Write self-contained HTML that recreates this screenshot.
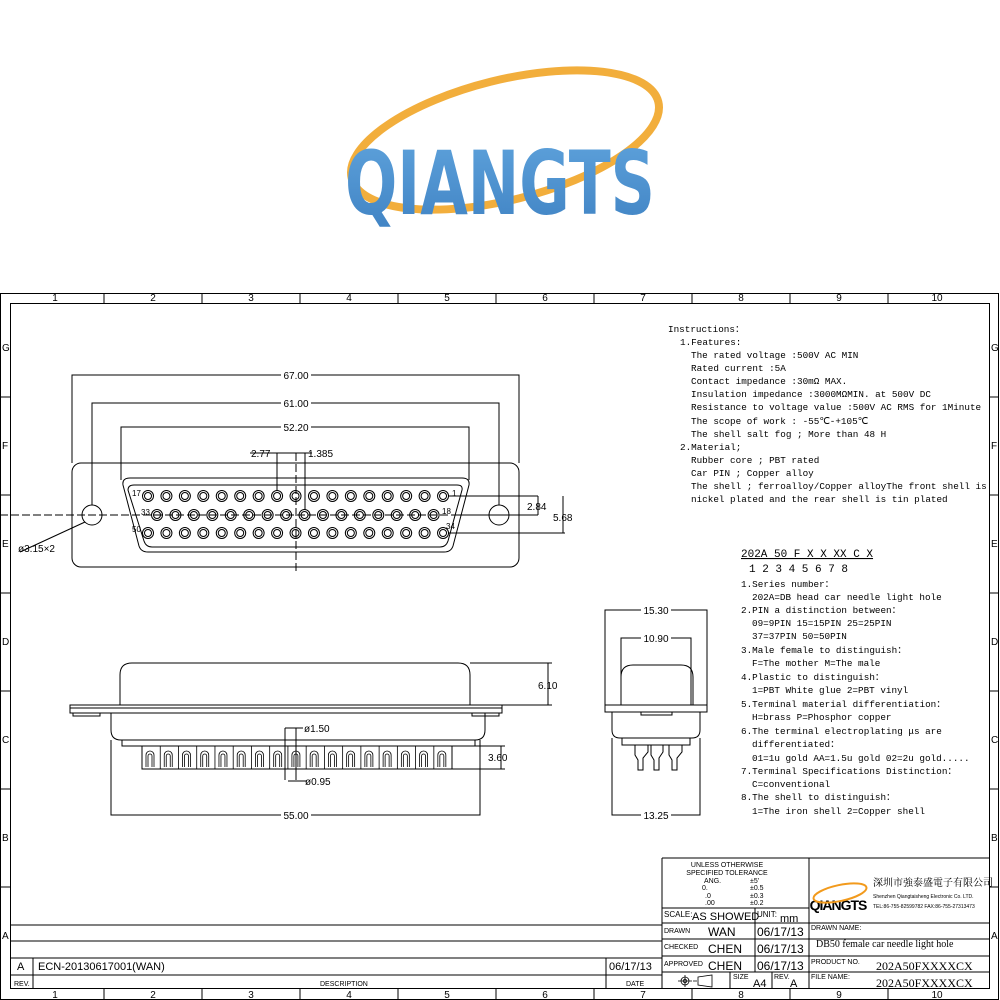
<!DOCTYPE html>
<html><head><meta charset="utf-8"><style>html,body{margin:0;padding:0;background:#fff}svg{display:block}</style></head><body>
<svg width="1000" height="1000" viewBox="0 0 1000 1000" xmlns="http://www.w3.org/2000/svg" xmlns:xlink="http://www.w3.org/1999/xlink" font-family="Liberation Sans, sans-serif">
<defs>
<linearGradient id="bl" x1="0" y1="0" x2="0" y2="1"><stop offset="0" stop-color="#5fa3dc"/><stop offset="1" stop-color="#3f82c3"/></linearGradient>
<g id="h" fill="none" stroke="#000" stroke-width="1"><circle r="5.5"/><circle r="3.5"/></g>
<g id="p" fill="none" stroke="#000" stroke-width="0.8"><path d="M18.24 0V23M4 21V9A4 4 0 0 1 12 9V21M6 21V10A2 2 0 0 1 10 10V21"/></g>
</defs>
<!-- logo -->
<ellipse cx="505" cy="140" rx="158" ry="60" transform="rotate(-14 505 140)" fill="none" stroke="#f2ae3c" stroke-width="8"/>
<text x="345" y="214" font-size="88" font-weight="bold" fill="url(#bl)" textLength="310" lengthAdjust="spacingAndGlyphs" font-family="DejaVu Sans, sans-serif">QIANGTS</text>

<g stroke="#000" fill="none" stroke-width="1">
<rect x="0.5" y="293.5" width="998" height="706"/>
<rect x="10.5" y="303.5" width="979" height="685"/>
<path d="M104 293v10M202 293v10M300 293v10M398 293v10M496 293v10M594 293v10M692 293v10M790 293v10M888 293v10"/>
<path d="M104 988v12M202 988v12M300 988v12M398 988v12M496 988v12M594 988v12M692 988v12M790 988v12M888 988v12"/>
<path d="M0 397h10M0 495h10M0 593h10M0 691h10M0 789h10M0 887h10M990 397h9M990 495h9M990 593h9M990 691h9M990 789h9M990 887h9"/>
<path d="M10 925h652M10 941h652M10 958h652M10 975h652M33 958v30M606 958v30M662 958v30"/>
<path d="M662 858h328M662 858v130M662 908h147M662 923h328M662 939h328M662 956h328M662 972h328M809 858v130M755 908v64M730 972v16M772 972v16"/>
</g>
<g font-size="10" fill="#000">
<text x="55" y="301" text-anchor="middle">1</text><text x="153" y="301" text-anchor="middle">2</text><text x="251" y="301" text-anchor="middle">3</text><text x="349" y="301" text-anchor="middle">4</text><text x="447" y="301" text-anchor="middle">5</text><text x="545" y="301" text-anchor="middle">6</text><text x="643" y="301" text-anchor="middle">7</text><text x="741" y="301" text-anchor="middle">8</text><text x="839" y="301" text-anchor="middle">9</text><text x="937" y="301" text-anchor="middle">10</text>
<text x="55" y="998" text-anchor="middle">1</text><text x="153" y="998" text-anchor="middle">2</text><text x="251" y="998" text-anchor="middle">3</text><text x="349" y="998" text-anchor="middle">4</text><text x="447" y="998" text-anchor="middle">5</text><text x="545" y="998" text-anchor="middle">6</text><text x="643" y="998" text-anchor="middle">7</text><text x="741" y="998" text-anchor="middle">8</text><text x="839" y="998" text-anchor="middle">9</text><text x="937" y="998" text-anchor="middle">10</text>
<text x="2" y="351">G</text><text x="2" y="449">F</text><text x="2" y="547">E</text><text x="2" y="645">D</text><text x="2" y="743">C</text><text x="2" y="841">B</text><text x="2" y="939">A</text>
<text x="991" y="351">G</text><text x="991" y="449">F</text><text x="991" y="547">E</text><text x="991" y="645">D</text><text x="991" y="743">C</text><text x="991" y="841">B</text><text x="991" y="939">A</text>
<text x="17" y="970" font-size="11">A</text><text x="38" y="970" font-size="11">ECN-20130617001(WAN)</text><text x="609" y="970" font-size="11">06/17/13</text>
<text x="14" y="986" font-size="7">REV.</text><text x="320" y="986" font-size="7">DESCRIPTION</text><text x="626" y="986" font-size="7">DATE</text>
<text x="727" y="867" font-size="7" text-anchor="middle">UNLESS  OTHERWISE</text>
<text x="727" y="875" font-size="7" text-anchor="middle">SPECIFIED  TOLERANCE</text>
<text x="704" y="883" font-size="7">ANG.</text><text x="750" y="883" font-size="7">±5'</text>
<text x="702" y="890" font-size="7">0.</text><text x="750" y="890" font-size="7">±0.5</text>
<text x="705" y="898" font-size="7">.0</text><text x="750" y="898" font-size="7">±0.3</text>
<text x="705" y="905" font-size="7">.00</text><text x="750" y="905" font-size="7">±0.2</text>
<text x="664" y="917" font-size="8">SCALE:</text><text x="692" y="920" font-size="11">AS  SHOWED</text>
<text x="757" y="917" font-size="8">UNIT:</text><text x="780" y="922" font-size="11">mm</text>
<text x="664" y="933" font-size="7">DRAWN</text><text x="708" y="936" font-size="12">WAN</text><text x="757" y="936" font-size="12">06/17/13</text>
<text x="664" y="949" font-size="7">CHECKED</text><text x="708" y="953" font-size="12">CHEN</text><text x="757" y="953" font-size="12">06/17/13</text>
<text x="664" y="966" font-size="7">APPROVED</text><text x="708" y="970" font-size="12">CHEN</text><text x="757" y="970" font-size="12">06/17/13</text>
<text x="733" y="979" font-size="7">SIZE</text><text x="753" y="987" font-size="11">A4</text>
<text x="774" y="979" font-size="7">REV.</text><text x="790" y="987" font-size="11">A</text>
<text x="811" y="930" font-size="7">DRAWN  NAME:</text>
<text x="816" y="947" font-size="10" font-family="Liberation Serif, serif">DB50 female car needle light hole</text>
<text x="811" y="964" font-size="7">PRODUCT NO.</text><text x="876" y="970" font-size="12" font-family="Liberation Serif, serif">202A50FXXXXCX</text>
<text x="811" y="979" font-size="7">FILE  NAME:</text><text x="876" y="987" font-size="12" font-family="Liberation Serif, serif">202A50FXXXXCX</text>
<text x="873" y="886" font-size="10" font-family="Noto Serif CJK SC, serif">深圳市強泰盛電子有限公司</text>
<text x="873" y="898" font-size="5">Shenzhen Qiangtaisheng Electronic Co. LTD.</text>
<text x="873" y="908" font-size="5">TEL:86-755-82599782 FAX:86-755-27313473</text>
<text x="838" y="910" font-size="14" font-weight="bold" text-anchor="middle" letter-spacing="-1">QIANGTS</text>
</g>
<ellipse cx="840" cy="893" rx="27" ry="8" transform="rotate(-12 840 893)" fill="none" stroke="#f29a1c" stroke-width="2"/>
<g stroke="#000" fill="none" stroke-width="0.8"><circle cx="685" cy="981" r="4"/><circle cx="685" cy="981" r="1.8"/><path d="M678 981h14M685 975v12M693 981h4M698 977l14-2v12l-14-2z"/></g>

<g font-family="Liberation Mono, monospace" font-size="9.3" fill="#000">
<text x="668" y="332">Instructions：</text>
<text x="680" y="345">1.Features:</text>
<text x="691" y="358">The rated voltage :500V AC MIN</text>
<text x="691" y="371">Rated current :5A</text>
<text x="691" y="384">Contact impedance :30mΩ MAX.</text>
<text x="691" y="397">Insulation impedance :3000MΩMIN. at 500V DC</text>
<text x="691" y="410">Resistance to voltage value :500V AC RMS for 1Minute</text>
<text x="691" y="424">The scope of work : -55℃-+105℃</text>
<text x="691" y="437">The shell salt fog ; More than 48 H</text>
<text x="680" y="450">2.Material;</text>
<text x="691" y="463">Rubber core ; PBT rated</text>
<text x="691" y="476">Car PIN ; Copper alloy</text>
<text x="691" y="489">The shell ; ferroalloy/Copper alloyThe front shell is</text>
<text x="691" y="502">nickel plated and the rear shell is tin plated</text>
<text x="741" y="557" text-decoration="underline" font-size="11">202A  50 F X X XX C X</text>
<text x="749" y="572" font-size="11">1    2  3 4 5  6  7 8</text>
<text x="741" y="587">1.Series number：</text>
<text x="752" y="600">202A=DB head car needle light hole</text>
<text x="741" y="613">2.PIN a distinction between：</text>
<text x="752" y="626">09=9PIN  15=15PIN  25=25PIN</text>
<text x="752" y="639">37=37PIN  50=50PIN</text>
<text x="741" y="653">3.Male female to distinguish：</text>
<text x="752" y="666">F=The mother  M=The male</text>
<text x="741" y="680">4.Plastic to distinguish：</text>
<text x="752" y="693">1=PBT White glue  2=PBT vinyl</text>
<text x="741" y="707">5.Terminal material differentiation：</text>
<text x="752" y="720">H=brass  P=Phosphor copper</text>
<text x="741" y="734">6.The terminal electroplating μs are</text>
<text x="752" y="747">differentiated：</text>
<text x="752" y="761">01=1u gold  AA=1.5u gold  02=2u gold.....</text>
<text x="741" y="774">7.Terminal Specifications Distinction：</text>
<text x="752" y="787">C=conventional</text>
<text x="741" y="800">8.The shell to distinguish：</text>
<text x="752" y="814">1=The iron shell  2=Copper shell</text>
</g>

<g stroke="#000" fill="none" stroke-width="1">
<rect x="72" y="463" width="447" height="104" rx="9"/>
<path d="M123 485Q122 478 130 478H462Q470 478 469 485L453 546Q451 552 444 552H148Q141 552 139 546Z"/>
<path d="M128 490Q128 485 134 485H457Q463 485 462 490L448 541Q446 547 440 547H152Q146 547 144 541Z"/>
<circle cx="92" cy="515" r="10"/><circle cx="499" cy="515" r="10"/>
<path d="M0 515H519" stroke-dasharray="8 3"/>
<path d="M296 453V572" stroke-dasharray="8 3"/>
<path d="M72 463V375H519V463M92 505V403H499V505M121 480V427H469V480"/>
<path d="M277 491V453H305V510M250 453H277M305 453H312"/>
<path d="M448 496H538M448 533H565M458 515H538M538 496V515M563 496V533"/>
<path d="M20 552L85 522"/>
</g>
<g>
<use xlink:href="#h" x="148" y="496"/><use xlink:href="#h" x="166.44" y="496"/><use xlink:href="#h" x="184.88" y="496"/><use xlink:href="#h" x="203.32" y="496"/><use xlink:href="#h" x="221.76" y="496"/><use xlink:href="#h" x="240.2" y="496"/><use xlink:href="#h" x="258.64" y="496"/><use xlink:href="#h" x="277.08" y="496"/><use xlink:href="#h" x="295.52" y="496"/><use xlink:href="#h" x="313.96" y="496"/><use xlink:href="#h" x="332.4" y="496"/><use xlink:href="#h" x="350.84" y="496"/><use xlink:href="#h" x="369.28" y="496"/><use xlink:href="#h" x="387.72" y="496"/><use xlink:href="#h" x="406.16" y="496"/><use xlink:href="#h" x="424.6" y="496"/><use xlink:href="#h" x="443.04" y="496"/>
<use xlink:href="#h" x="148" y="533"/><use xlink:href="#h" x="166.44" y="533"/><use xlink:href="#h" x="184.88" y="533"/><use xlink:href="#h" x="203.32" y="533"/><use xlink:href="#h" x="221.76" y="533"/><use xlink:href="#h" x="240.2" y="533"/><use xlink:href="#h" x="258.64" y="533"/><use xlink:href="#h" x="277.08" y="533"/><use xlink:href="#h" x="295.52" y="533"/><use xlink:href="#h" x="313.96" y="533"/><use xlink:href="#h" x="332.4" y="533"/><use xlink:href="#h" x="350.84" y="533"/><use xlink:href="#h" x="369.28" y="533"/><use xlink:href="#h" x="387.72" y="533"/><use xlink:href="#h" x="406.16" y="533"/><use xlink:href="#h" x="424.6" y="533"/><use xlink:href="#h" x="443.04" y="533"/>
<use xlink:href="#h" x="157" y="515"/><use xlink:href="#h" x="175.44" y="515"/><use xlink:href="#h" x="193.88" y="515"/><use xlink:href="#h" x="212.32" y="515"/><use xlink:href="#h" x="230.76" y="515"/><use xlink:href="#h" x="249.2" y="515"/><use xlink:href="#h" x="267.64" y="515"/><use xlink:href="#h" x="286.08" y="515"/><use xlink:href="#h" x="304.52" y="515"/><use xlink:href="#h" x="322.96" y="515"/><use xlink:href="#h" x="341.4" y="515"/><use xlink:href="#h" x="359.84" y="515"/><use xlink:href="#h" x="378.28" y="515"/><use xlink:href="#h" x="396.72" y="515"/><use xlink:href="#h" x="415.16" y="515"/><use xlink:href="#h" x="433.6" y="515"/>
</g>
<g font-size="10" fill="#000">
<rect x="281" y="369" width="30" height="11" fill="#fff"/><text x="296" y="379" text-anchor="middle">67.00</text>
<rect x="281" y="397" width="30" height="11" fill="#fff"/><text x="296" y="407" text-anchor="middle">61.00</text>
<rect x="281" y="421" width="30" height="11" fill="#fff"/><text x="296" y="431" text-anchor="middle">52.20</text>
<text x="251" y="457">2.77</text><text x="308" y="457">1.385</text>
<text x="527" y="510">2.84</text><text x="553" y="521">5.68</text>
<text x="18" y="552">ø3.15×2</text>
<text x="132" y="496" font-size="8">17</text><text x="141" y="515" font-size="8">33</text><text x="132" y="532" font-size="8">50</text>
<text x="452" y="496" font-size="8">1</text><text x="442" y="514" font-size="8">18</text><text x="446" y="529" font-size="8">34</text>
</g>

<g stroke="#000" fill="none" stroke-width="1">
<path d="M120 705V675Q120 663 132 663H458Q470 663 470 675V705"/>
<rect x="70" y="705" width="432" height="8"/><path d="M70 708H502"/>
<rect x="73" y="713" width="27" height="3"/><rect x="472" y="713" width="27" height="3"/>
<path d="M111 713V730Q111 740 121 740H475Q485 740 485 730V713"/>
<path d="M122 740V746H475V740"/>
<path d="M142 746V769H452V746"/>
<path d="M470 663H552M502 705H552M548 663V705"/>
<path d="M452 746H505M452 769H505M501 746V769"/>
<path d="M111 740V815H480V740"/>
<path d="M285 728H303M285 728V780M296 728V780M288 781H307"/>
</g>
<g>
<use xlink:href="#p" x="142" y="746"/><use xlink:href="#p" x="160.24" y="746"/><use xlink:href="#p" x="178.48" y="746"/><use xlink:href="#p" x="196.72" y="746"/><use xlink:href="#p" x="214.96" y="746"/><use xlink:href="#p" x="233.2" y="746"/><use xlink:href="#p" x="251.44" y="746"/><use xlink:href="#p" x="269.68" y="746"/><use xlink:href="#p" x="287.92" y="746"/><use xlink:href="#p" x="306.16" y="746"/><use xlink:href="#p" x="324.4" y="746"/><use xlink:href="#p" x="342.64" y="746"/><use xlink:href="#p" x="360.88" y="746"/><use xlink:href="#p" x="379.12" y="746"/><use xlink:href="#p" x="397.36" y="746"/><use xlink:href="#p" x="415.6" y="746"/><use xlink:href="#p" x="433.84" y="746"/>
</g>
<g font-size="10" fill="#000">
<text x="538" y="689">6.10</text><text x="488" y="761">3.60</text>
<rect x="281" y="809" width="30" height="11" fill="#fff"/><text x="296" y="819" text-anchor="middle">55.00</text>
<text x="304" y="732">ø1.50</text><text x="305" y="785">ø0.95</text>
</g>

<g stroke="#000" fill="none" stroke-width="1">
<path d="M605 705V610H707V705M621 705V638H691V705"/>
<path d="M621 705V677Q621 665 633 665H681Q693 665 693 677V705"/>
<rect x="605" y="705" width="102" height="7"/>
<rect x="641" y="712" width="31" height="3"/>
<path d="M612 712V730Q612 738 620 738H692Q700 738 700 730V712"/>
<path d="M622 738V745H690V738"/>
<path d="M635 745V755L638 760V770H643V758L648 752V745M651 745V755L654 760V770H659V758L663 752V745M669 745V755L672 760V770H677V758L682 752V745"/>
<path d="M612 738V815H700V738"/>
</g>
<g font-size="10" fill="#000">
<rect x="641" y="604" width="30" height="11" fill="#fff"/><text x="656" y="614" text-anchor="middle">15.30</text>
<rect x="641" y="632" width="30" height="11" fill="#fff"/><text x="656" y="642" text-anchor="middle">10.90</text>
<rect x="641" y="809" width="30" height="11" fill="#fff"/><text x="656" y="819" text-anchor="middle">13.25</text>
</g>
</svg>
</body></html>
